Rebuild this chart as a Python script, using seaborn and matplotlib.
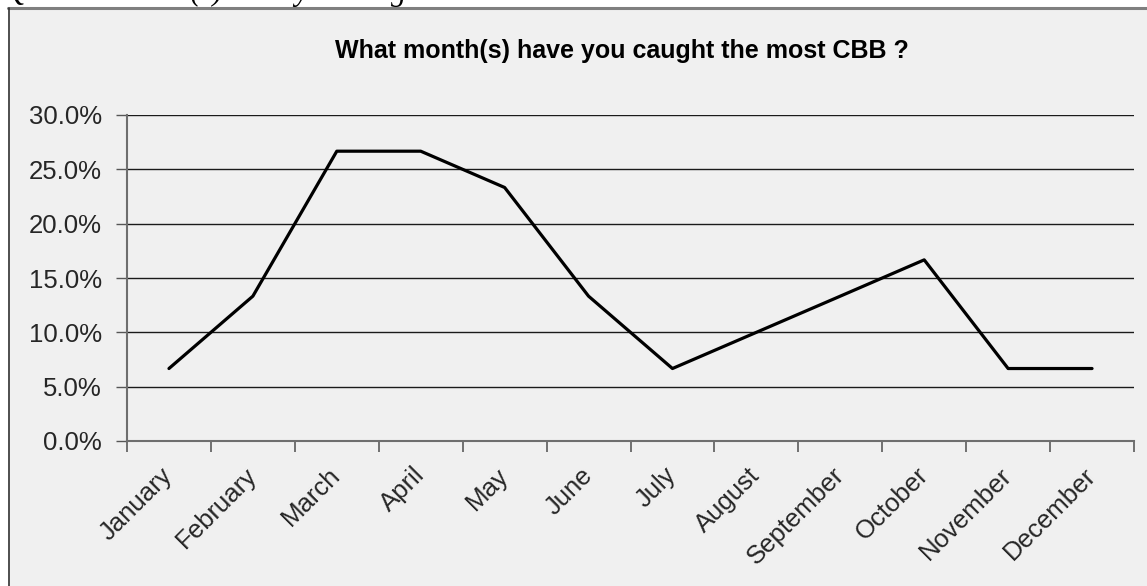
import numpy as np
import pandas as pd
import matplotlib
matplotlib.use("Agg")
import matplotlib.pyplot as plt
from matplotlib.patches import Rectangle
from matplotlib.ticker import FixedLocator, PercentFormatter
import seaborn as sns

# Survey responses: share of respondents per month
months = ["January", "February", "March", "April", "May", "June",
          "July", "August", "September", "October", "November", "December"]
share = [6.67, 13.33, 26.67, 26.67, 23.33, 13.33,
         6.67, 10.0, 13.33, 16.67, 6.67, 6.67]
y_ticks = [0, 5, 10, 15, 20, 25, 30]
title = "What month(s) have you caught the most CBB ?"
question = "Q. What month(s) have you caught the most CBB?"

df = pd.DataFrame({"idx": np.arange(len(months)), "share": share})

sns.set_style("white")
plt.rcParams["font.family"] = ["Liberation Sans", "DejaVu Sans"]

W, H = 1147, 586
fig = plt.figure(figsize=(W / 100, H / 100), dpi=100)
fig.patch.set_facecolor("white")

# chart frame: light grey panel with a dark left edge and grey top edge
bg = "#f0f0f0"
fig.patches.append(Rectangle((8 / W, 0), 1 - 8 / W, 1 - 8 / H,
                             transform=fig.transFigure, facecolor=bg,
                             edgecolor="none", zorder=-10))
fig.add_artist(plt.Line2D([8 / W, 1], [1 - 8 / H, 1 - 8 / H],
                          transform=fig.transFigure, color="#7f7f7f", lw=2.2,
                          zorder=-5))
fig.add_artist(plt.Line2D([8.5 / W, 8.5 / W], [0, 1 - 8 / H],
                          transform=fig.transFigure, color="#333333", lw=1.2,
                          zorder=-5))

# document question line above the chart (runs off the page edge)
fig.text(5 / W, 1.0, question, ha="left", va="baseline",
         family=["Liberation Serif", "DejaVu Serif"], style="italic",
         fontsize=22, color="black")

ax = fig.add_axes([127 / W, 1 - 441 / H, (1134 - 127) / W, (441 - 115) / H])
ax.set_zorder(2)
ax.set_facecolor(bg)

sns.lineplot(data=df, x="idx", y="share", ax=ax, color="black",
             linewidth=2.3, sort=False, zorder=3)

ax.set_xlim(-0.5, len(months) - 0.5)
ax.set_ylim(0, 30)
ax.set_xlabel("")
ax.set_ylabel("")

# y axis: percentage ticks with horizontal gridlines
ax.set_yticks(y_ticks)
ax.yaxis.set_major_formatter(PercentFormatter(decimals=1))
ax.grid(axis="y", color="#1a1a1a", linewidth=1.0, zorder=1)
ax.tick_params(axis="y", which="major", length=8, width=1.0, color="#555555",
               direction="out", pad=10, labelsize=18.5, left=True)

# x axis: month names centered between boundary tick marks
ax.set_xticks(np.arange(len(months)))
ax.set_xticklabels(months, rotation=45, ha="right", rotation_mode="anchor")
ax.xaxis.set_minor_locator(FixedLocator(np.arange(-0.5, len(months), 1.0)))
ax.tick_params(axis="x", which="major", length=0, pad=22, labelsize=18.5)
ax.tick_params(axis="x", which="minor", length=8, width=1.3, color="#666666",
               direction="out", bottom=True)
for lab in ax.get_xticklabels():
    lab.set_va("center")

for side in ["top", "right"]:
    ax.spines[side].set_visible(False)
for side in ["left", "bottom"]:
    ax.spines[side].set_color("#6e6e6e")
    ax.spines[side].set_linewidth(1.5)

fig.text(622 / W, 1 - 51 / H, title, ha="center", va="center",
         fontsize=18, fontweight="bold", color="black")

fig.savefig("out.png", dpi=100, facecolor=fig.get_facecolor())
